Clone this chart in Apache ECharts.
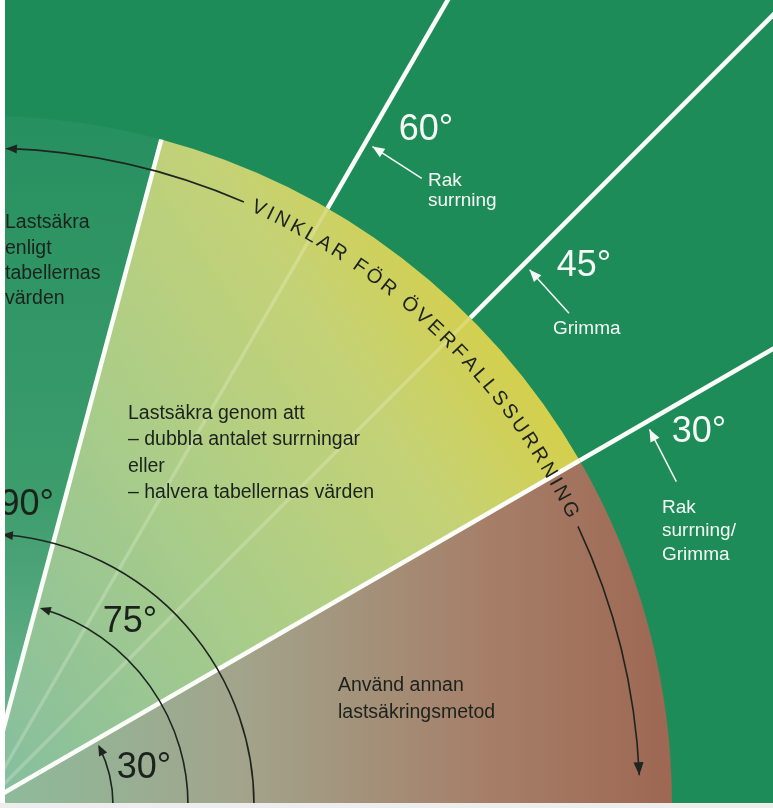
<!DOCTYPE html>
<html>
<head>
<meta charset="utf-8">
<script src="https://cdn.jsdelivr.net/npm/echarts/dist/echarts.min.js"></script>
<style>
html,body{margin:0;padding:0;background:#fff;}
#c{width:773px;height:808px;}
</style>
</head>
<body>
<div id="c"></div>
<script>
// ---------------- data ----------------
const zoneStart = [0, 30, 75];          // degrees
const zoneEnd = [30, 75, 90];           // degrees
const zoneRadius = 689;                 // radius-axis units
const zoneTexts = [
  'Använd annan\nlastsäkringsmetod',
  'Lastsäkra genom att\n– dubbla antalet surrningar\neller\n– halvera tabellernas värden',
  'Lastsäkra\nenligt\ntabellernas\nvärden'
];

const rayAngles = [30, 45, 60, 75];
const rayOuter = [true, true, true, false];      // ray continues past the sector
const rayInnerSolid = [true, false, false, true];

const markerAngles = [30, 75, 90];
const markerRadii = [130, 205, 271];
const markerEnds = [27.6, 73.9, 86];
const markerLabels = ['30°', '75°', '90°'];

const pointerAngles = [30, 45, 60];
const pointerLabels = ['30°', '45°', '60°'];
const pointerNotes = ['Rak\nsurrning/\nGrimma', 'Grimma', 'Rak\nsurrning'];
const pointerRadius = 765;

const titleText = 'VINKLAR FÖR ÖVERFALLSSURRNING';
const titleRadius = 657;
const titleLetterSpan = [65.2, 26.7];         // first / last letter centre angle
const titleArcPieces = [[88, 66.6], [25.1, 2.6]];

// ---------------- helpers ----------------
const FONT = '"Liberation Sans", Arial, sans-serif';
const INK = '#1b221d';
const WHITE = '#f6faf6';
const measureCtx = document.createElement('canvas').getContext('2d');

function P(api, r, a) { return api.coord([r, a]); }
function C(api) { return api.coord([0, 0]); }
function rpx(api, r) { const c = C(api), p = P(api, r, 0); return Math.hypot(p[0] - c[0], p[1] - c[1]); }
function sang(api, r, a) { const c = C(api), p = P(api, r, a); return Math.atan2(p[1] - c[1], p[0] - c[0]); }
function arcEl(api, r, a1, a2, style) {
  const c = C(api), lo = Math.min(a1, a2), hi = Math.max(a1, a2);
  return { type: 'arc', shape: { cx: c[0], cy: c[1], r: rpx(api, r), startAngle: sang(api, r, hi), endAngle: sang(api, r, lo), clockwise: true },
           style: Object.assign({ fill: null }, style) };
}
function headEl(tip, from, len, half, fill) {
  let dx = tip[0] - from[0], dy = tip[1] - from[1];
  const L = Math.hypot(dx, dy); dx /= L; dy /= L;
  const bx = tip[0] - dx * len, by = tip[1] - dy * len;
  return { type: 'polygon', shape: { points: [tip, [bx - dy * half, by + dx * half], [bx + dy * half, by - dx * half]] }, style: { fill } };
}

const zoneFills = [
  new echarts.graphic.LinearGradient(0, 0, 690, 0, [
    { offset: 0, color: '#8dbb9b' }, { offset: 0.35, color: '#a2a48b' },
    { offset: 0.7, color: '#a67f69' }, { offset: 1, color: '#9d6550' }], true),
  new echarts.graphic.LinearGradient(0, 800, 590, 420, [
    { offset: 0, color: '#84be9f' }, { offset: 0.45, color: '#abcd88' },
    { offset: 0.75, color: '#c4d276' }, { offset: 1, color: '#d8cf44' }], true),
  new echarts.graphic.LinearGradient(0, 116, 0, 805, [
    { offset: 0, color: '#279060' }, { offset: 0.55, color: '#3c9c6c' },
    { offset: 1, color: '#7cba9a' }], true)
];

// ---------------- series data ----------------
const zoneData = zoneStart.map((s, i) => [zoneRadius, s, zoneEnd[i]]);
const rayData = [];
rayAngles.forEach((a, i) => {
  rayData.push([0, a, zoneRadius, rayInnerSolid[i] ? 1 : 0]);
  if (rayOuter[i]) rayData.push([zoneRadius, a, 1200, 1]);
});
const markerData = markerAngles.map((a, i) => [markerRadii[i], markerEnds[i]]);
const pointerData = pointerAngles.map(a => [pointerRadius, a]);

const chart = echarts.init(document.getElementById('c'));

const textEls = [];
// ray labels
const pointerLabelPos = [[699, 432], [584, 266], [426, 130]];
pointerLabels.forEach((t, i) => textEls.push({ type: 'text', x: pointerLabelPos[i][0], y: pointerLabelPos[i][1], z: 50,
  style: { text: t, font: '36px ' + FONT, fill: WHITE, align: 'center', verticalAlign: 'middle' } }));
const pointerNotePos = [[662, 531, 23.5], [553, 329, 22], [428, 191, 20]];
pointerNotes.forEach((t, i) => textEls.push({ type: 'text', x: pointerNotePos[i][0], y: pointerNotePos[i][1], z: 50,
  style: { text: t, font: '19px ' + FONT, lineHeight: pointerNotePos[i][2], fill: WHITE, align: 'left', verticalAlign: 'middle' } }));
// marker labels
const markerLabelPos = [[144, 768, 'center'], [130, 622, 'center'], [54, 505, 'right']];
markerLabels.forEach((t, i) => textEls.push({ type: 'text', x: markerLabelPos[i][0], y: markerLabelPos[i][1], z: 50,
  style: { text: t, font: '36px ' + FONT, fill: INK, align: markerLabelPos[i][2], verticalAlign: 'middle' } }));
// zone texts
const zoneTextPos = [[338, 699, 27], [128, 453, 26.3], [5, 261, 25.3]];
zoneTexts.forEach((t, i) => textEls.push({ type: 'text', x: zoneTextPos[i][0], y: zoneTextPos[i][1], z: 50,
  style: { text: t, font: '19.5px ' + FONT, lineHeight: zoneTextPos[i][2], fill: INK, align: 'left', verticalAlign: 'middle' } }));
// frame
textEls.push({ type: 'rect', z: 100, shape: { x: 0, y: 0, width: 5, height: 808 }, style: { fill: '#ffffff' } });
textEls.push({ type: 'rect', z: 100, shape: { x: 0, y: 803, width: 773, height: 5 }, style: { fill: '#ededed' } });

const TITLE_FONT = '20px ' + FONT;

chart.setOption({
  backgroundColor: '#1e8c58',
  animation: false,
  polar: { center: [-17, 805], radius: 1200 },
  angleAxis: { type: 'value', min: 0, max: 360, startAngle: 0, clockwise: false, show: false },
  radiusAxis: { type: 'value', min: 0, max: 1200, show: false },
  graphic: textEls,
  series: [
    { // zones
      type: 'custom', coordinateSystem: 'polar', z: 1, encode: { radius: 0, angle: 1 }, data: zoneData,
      renderItem(params, api) {
        const r = api.value(0), a0 = api.value(1), a1 = api.value(2), c = C(api);
        return { type: 'sector', shape: { cx: c[0], cy: c[1], r0: 0, r: rpx(api, r),
          startAngle: sang(api, r, a1), endAngle: sang(api, r, a0), clockwise: true },
          style: { fill: zoneFills[params.dataIndex] } };
      }
    },
    { // rays
      type: 'custom', coordinateSystem: 'polar', z: 2, encode: { radius: 0, angle: 1 }, data: rayData,
      renderItem(params, api) {
        const r0 = api.value(0), a = api.value(1), r1 = api.value(2), solid = api.value(3);
        const p0 = P(api, r0, a), p1 = P(api, r1, a);
        return { type: 'line', shape: { x1: p0[0], y1: p0[1], x2: p1[0], y2: p1[1] },
          style: { stroke: solid ? '#fbfdf8' : 'rgba(255,255,240,0.22)', lineWidth: solid ? 4.5 : 3.5 } };
      }
    },
    { // angle marker arcs
      type: 'custom', coordinateSystem: 'polar', z: 3, encode: { radius: 0, angle: 1 }, data: markerData,
      renderItem(params, api) {
        const r = api.value(0), a = api.value(1);
        const tip = P(api, r, a), from = P(api, r, a - 2);
        return { type: 'group', children: [
          arcEl(api, r, -2, a - 1, { stroke: '#1e2420', lineWidth: 1.6 }),
          headEl(tip, from, 11, 4.5, '#1e2420')
        ] };
      }
    },
    { // title arc with arrows
      type: 'custom', coordinateSystem: 'polar', z: 3, encode: { radius: 0, angle: 1 },
      data: titleArcPieces.map(p => [titleRadius, p[0], p[1]]),
      renderItem(params, api) {
        const r = api.value(0), a0 = api.value(1), a1 = api.value(2);
        const ch = [arcEl(api, r, a0, a1, { stroke: '#1e2420', lineWidth: 1.6 })];
        if (params.dataIndex === 0) ch.push(headEl(P(api, r, a0), P(api, r, a0 - 2), 11, 4.5, '#1e2420'));
        else ch.push(headEl(P(api, r, a1), P(api, r, a1 + 2), 13, 5, '#1e2420'));
        return { type: 'group', children: ch };
      }
    },
    { // title letters
      type: 'custom', coordinateSystem: 'polar', z: 4, encode: { radius: 0, angle: 1 },
      data: [[titleRadius, titleLetterSpan[0], titleLetterSpan[1]]],
      renderItem(params, api) {
        const R = api.value(0), aS = api.value(1), aE = api.value(2);
        measureCtx.font = TITLE_FONT;
        const chars = Array.from(titleText);
        const w = chars.map(c => measureCtx.measureText(c).width);
        const Rp = rpx(api, R);
        const span = (aS - aE) * Math.PI / 180 * Rp;
        const natural = w.reduce((s, x) => s + x, 0) - (w[0] + w[w.length - 1]) / 2;
        const gap = (span - natural) / (chars.length - 1);
        let d = 0; const children = [];
        chars.forEach((c, i) => {
          if (i > 0) d += (w[i - 1] + w[i]) / 2 + gap;
          const ang = aS - d / Rp * 180 / Math.PI;
          const p = P(api, R, ang);
          if (c.trim()) children.push({ type: 'text', x: p[0], y: p[1], rotation: (ang - 90) * Math.PI / 180,
            style: { text: c, font: TITLE_FONT, fill: INK, align: 'center', verticalAlign: 'middle' } });
        });
        return { type: 'group', children };
      }
    },
    { // white pointer arrows
      type: 'custom', coordinateSystem: 'polar', z: 4, encode: { radius: 0, angle: 1 }, data: pointerData,
      renderItem(params, api) {
        const r = api.value(0), a = api.value(1);
        const tail = P(api, r, a - 5), tip = P(api, r, a - 0.6);
        return { type: 'group', children: [
          { type: 'line', shape: { x1: tail[0], y1: tail[1], x2: tip[0], y2: tip[1] }, style: { stroke: WHITE, lineWidth: 1.5 } },
          headEl(tip, tail, 12, 5, WHITE)
        ] };
      }
    }
  ]
});
</script>
</body>
</html>
